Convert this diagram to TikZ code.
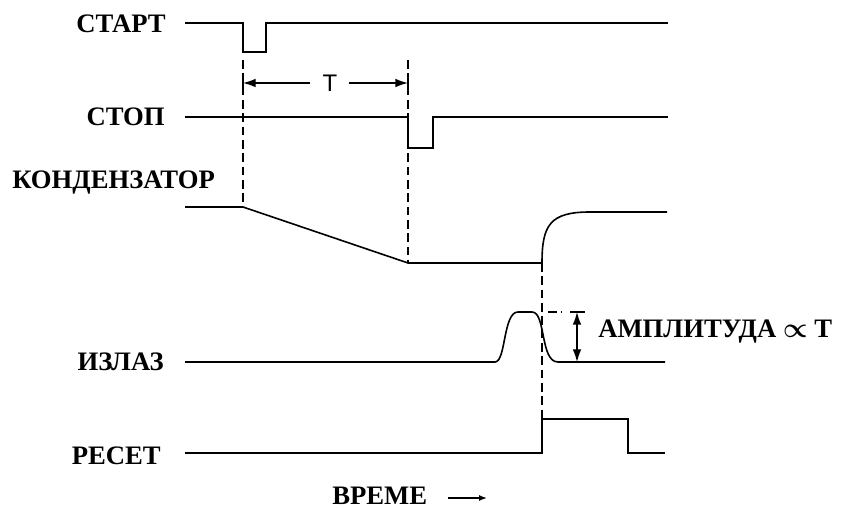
\documentclass[tikz,border=0pt]{standalone}
\usepackage{fontspec}
\setmainfont{Liberation Serif}
\newfontfamily\tsans{Liberation Sans}
\usetikzlibrary{arrows.meta}
\begin{document}
\begin{tikzpicture}[x=0.75pt,y=-0.75pt,
  sig/.style={line width=1.2pt, line join=miter},
  guide/.style={line width=1.1pt, dash pattern=on 6.5pt off 3.5pt},
  lbl/.style={font=\fontsize{20}{24}\selectfont\bfseries, inner sep=0pt},
  dblarr/.style={line width=1pt, {Latex[length=9.5pt,width=6.5pt]}-{Latex[length=9.5pt,width=6.5pt]}},
  arr/.style={line width=1pt, -{Latex[length=9.5pt,width=6.5pt]}}]
\useasboundingbox (0,0) rectangle (843,509);
% labels
\node[lbl, anchor=east] (lstart) at (166,24) {СТАРТ};
\node[lbl, anchor=east] (lstop) at (165,117) {СТОП};
\node[lbl, anchor=west] (lcap) at (12,183) {КОНДЕНЗАТОР};
\node[lbl, anchor=east] (lout) at (164,362) {ИЗЛАЗ};
\node[lbl, anchor=east] (lres) at (161,456) {РЕСЕТ};
\node[lbl, anchor=west] (ltime) at (332,496) {ВРЕМЕ};
\node[lbl, anchor=west] (lamp) at (598,332) {АМПЛИТУДА {\boldmath$\propto$} Т};
\node[font=\tsans\fontsize{18}{20}\selectfont, inner sep=0pt] (lT) at (330,83) {T};
% START
\draw[sig] (185,23) -- (243,23) -- (243,52) -- (266,52) -- (266,23) -- (668,23);
% STOP
\draw[sig] (185,117) -- (408,117) -- (408,148) -- (433,148) -- (433,117) -- (668,117);
% capacitor
\draw[sig] (185,207) -- (243,207) -- (408,263) -- (542,263)
  .. controls (542,225) and (550,212) .. (590,212) -- (667,212);
% output
\draw[sig] (185,362) -- (495,362) .. controls (506,362) and (503,312) .. (518,312)
  -- (532,312) .. controls (546,312) and (540,362) .. (558,362) -- (665,362);
% reset
\draw[sig] (185,453) -- (542,453) -- (542,419) -- (628,419) -- (628,453) -- (665,453);
% dashed guides
\draw[guide] (243,60) -- (243,207);
\draw[guide] (408,60) -- (408,263);
\draw[guide] (542,263) -- (542,419);
\draw[guide] (548,312) -- (562,312);
% T interval
\draw[line width=1pt] (243,75) -- (243,92);
\draw[line width=1pt] (408,75) -- (408,92);
\draw[arr] (lT.west) ++(-12,0) -- (243,83);
\draw[arr] (lT.east) ++(11,0) -- (408,83);
% amplitude
\draw[line width=1pt] (570,312) -- (585,312);
\draw[dblarr] (577,312) -- (577,362);
% time arrow
\draw[line width=1pt, -{Latex[length=6pt,width=4.5pt]}] (448,498) -- (487,498);
\end{tikzpicture}
\end{document}
